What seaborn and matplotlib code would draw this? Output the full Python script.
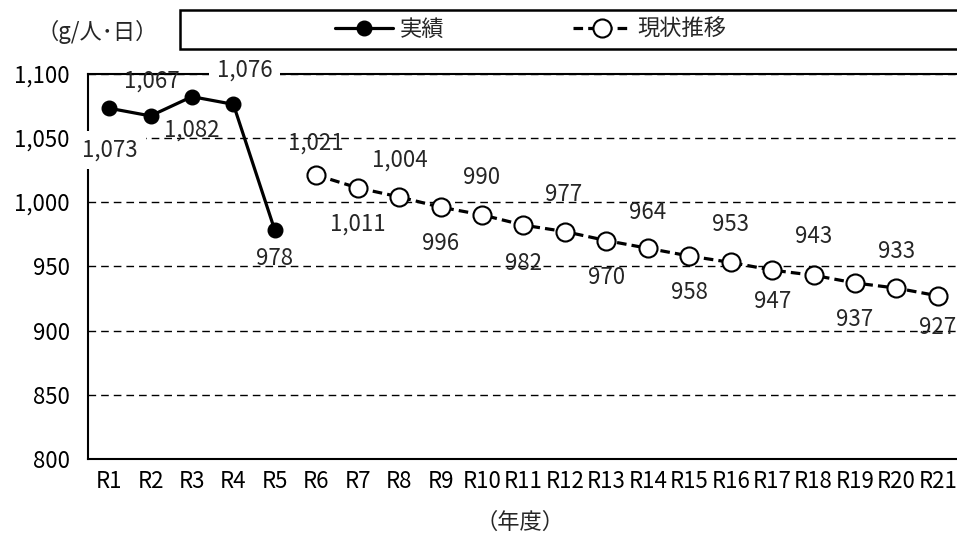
import numpy as np
import pandas as pd
import matplotlib
matplotlib.use("Agg")
import matplotlib.pyplot as plt
from matplotlib.patches import Rectangle
import seaborn as sns

# --- data ---
years = [f"R{i}" for i in range(1, 22)]
actual_years = ["R1", "R2", "R3", "R4", "R5"]
actual_values = [1073, 1067, 1082, 1076, 978]
trend_years = [f"R{i}" for i in range(6, 22)]
trend_values = [1021, 1011, 1004, 996, 990, 982, 977, 970,
                964, 958, 953, 947, 943, 937, 933, 927]
y_ticks = [800, 850, 900, 950, 1000, 1050, 1100]

# label offsets (pixels) for the value annotations
actual_offsets = [(1, -42), (1, 35), (0, -33), (11, 34), (0, -28)]
trend_offsets = [(0, 32), (0, -36), (1, 37), (0, -36), (0, 37), (0, -38),
                 (-1, 37), (0, -37), (0, 36), (0, -37), (0, 38), (0, -31),
                 (0, 39), (0, -37), (0, 37), (0, -32)]

sns.set_theme(style="white")
plt.rcParams["font.family"] = ["Noto Sans CJK JP", "DejaVu Sans"]
FS = 16

actual_df = pd.DataFrame({"x": [years.index(y) for y in actual_years],
                          "value": actual_values})
trend_df = pd.DataFrame({"x": [years.index(y) for y in trend_years],
                         "value": trend_values})

fig = plt.figure(figsize=(9.57, 5.35), dpi=100)
ax = fig.add_axes([0.092, 0.142, 0.908, 0.7206])

sns.lineplot(data=actual_df, x="x", y="value", ax=ax, color="black",
             linewidth=2.3, marker="o", markersize=10.5,
             markerfacecolor="black", markeredgecolor="black",
             markeredgewidth=1, label="実績", zorder=4)
sns.lineplot(data=trend_df, x="x", y="value", ax=ax, color="black",
             linewidth=2.3, linestyle=(0, (3, 1.6)), marker="o", markersize=13,
             markerfacecolor="white", markeredgecolor="black",
             markeredgewidth=1.5, label="現状推移", zorder=4)

ax.set_xlim(-0.507, 20.46)
ax.set_ylim(800, 1100)
ax.set_yticks(y_ticks)
ax.set_yticklabels([f"{v:,}" for v in y_ticks], fontsize=FS)
ax.set_xticks(range(len(years)))
ax.set_xticklabels(years, fontsize=FS)
ax.tick_params(axis="both", length=0, colors="black")
ax.tick_params(axis="y", pad=13)
ax.tick_params(axis="x", pad=8)
ax.set_xlabel("")
ax.set_ylabel("")

ax.yaxis.grid(True, color="black", linewidth=1, linestyle=(0, (5.5, 3.6)))
ax.xaxis.grid(False)
for side in ["left", "bottom", "top"]:
    ax.spines[side].set_color("black")
    ax.spines[side].set_linewidth(1.5)
ax.spines["right"].set_visible(False)

# value labels
for (x, v), (dx, dy) in zip(zip(actual_df["x"], actual_values), actual_offsets):
    box = None
    if v in (1073, 1076):
        box = dict(boxstyle="square,pad=0.35", facecolor="white", edgecolor="none")
    ax.annotate(f"{v:,}", (x, v), xytext=(dx, dy), textcoords="offset pixels",
                ha="center", va="center", fontsize=FS, bbox=box, zorder=5,
                annotation_clip=False)
for (x, v), (dx, dy) in zip(zip(trend_df["x"], trend_values), trend_offsets):
    ax.annotate(f"{v:,}", (x, v), xytext=(dx, dy), textcoords="offset pixels",
                ha="center", va="center", fontsize=FS, zorder=5,
                annotation_clip=False)

# legend in a box across the top
handles, labels = ax.get_legend_handles_labels()
ax.get_legend().remove()
fig.add_artist(Rectangle((180 / 957, 1 - 49 / 535), 800 / 957, 39 / 535,
                         transform=fig.transFigure, facecolor="white",
                         edgecolor="black", linewidth=1.8, clip_on=False))
fig.legend(handles, labels, loc="center left",
           bbox_to_anchor=(335 / 957, 1 - 29 / 535), ncol=2, frameon=False,
           fontsize=FS, handlelength=2.6, handletextpad=0.3,
           columnspacing=5.8, borderpad=0, borderaxespad=0)

fig.text(97 / 957, 1 - 32 / 535, "（g/人･日）", ha="center", va="center",
         fontsize=FS)
fig.text(520 / 957, 1 - 522 / 535, "（年度）", ha="center", va="center",
         fontsize=FS)

fig.savefig("out.png", dpi=100)
